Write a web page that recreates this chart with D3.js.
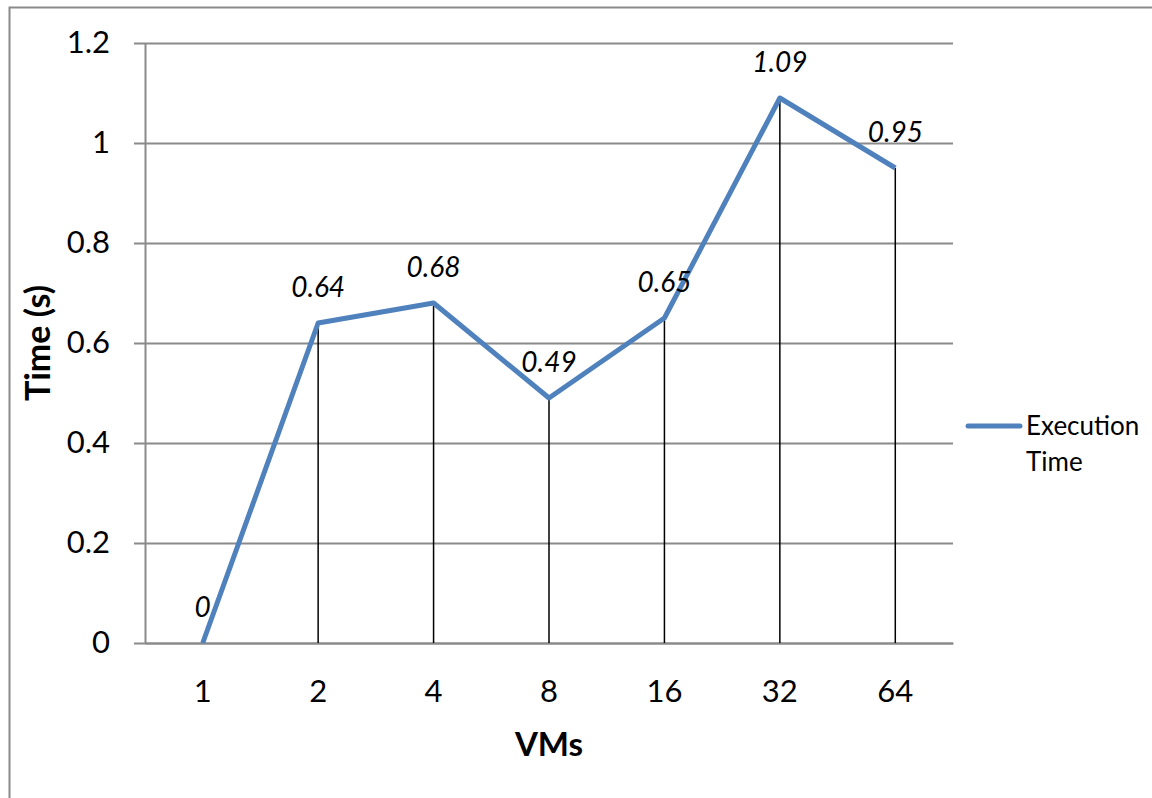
<!DOCTYPE html>
<html>
<head>
<meta charset="utf-8">
<script src="https://cdn.jsdelivr.net/npm/d3@7"></script>
<style>
  html, body { margin: 0; padding: 0; background: #fff; }
  svg { display: block; font-family: Lato, "Noto Sans", sans-serif; }
</style>
</head>
<body>
<svg id="chart" width="1152" height="798"></svg>
<script>
// Execution time per number of VMs
const vms = ["1", "2", "4", "8", "16", "32", "64"];
const execTime = [0, 0.64, 0.68, 0.49, 0.65, 1.09, 0.95];
const yTicks = [0, 0.2, 0.4, 0.6, 0.8, 1, 1.2];
const seriesName = ["Execution", "Time"];

const svg = d3.select("#chart");
const plot = { left: 145, right: 953, top: 43, bottom: 643 };

const x = d3.scaleBand().domain(vms).range([plot.left, plot.right]);
const y = d3.scaleLinear().domain([0, 1.2]).range([plot.bottom, plot.top]);
const cx = d => x(d) + x.bandwidth() / 2;

// outer chart frame
svg.append("path")
  .attr("d", "M9.5,798 L9.5,7.5 L1152,7.5")
  .attr("fill", "none").attr("stroke", "#8a8a8a").attr("stroke-width", 2);

// horizontal gridlines with outward tick marks
const yAxis = d3.axisLeft(y).tickValues(yTicks)
  .tickSize(-(plot.right - plot.left)).tickSizeOuter(0)
  .tickFormat(d => d3.format("")(d)).tickPadding(35);
const gy = svg.append("g").attr("transform", `translate(${plot.left},0)`).call(yAxis);
gy.select(".domain").attr("stroke", "#8a8a8a").attr("stroke-width", 2);
gy.selectAll(".tick line").attr("stroke", "#8a8a8a").attr("stroke-width", 2)
  .attr("x1", -11);
gy.selectAll(".tick text").attr("font-size", 31).attr("fill", "#000")
  .attr("font-family", "Lato, sans-serif");

// category axis
const xAxis = d3.axisBottom(x).tickSize(0).tickPadding(49);
const gx = svg.append("g").attr("transform", `translate(0,${plot.bottom})`).call(xAxis);
gx.select(".domain").attr("stroke", "#8a8a8a").attr("stroke-width", 2);
gx.selectAll(".tick text").attr("font-size", 31).attr("fill", "#000")
  .attr("font-family", "Lato, sans-serif").attr("dy", "0.32em");

// drop lines from each point to the axis
svg.append("g").selectAll("line")
  .data(vms.map((v, i) => ({ v, t: execTime[i] })))
  .join("line")
  .attr("x1", d => cx(d.v)).attr("x2", d => cx(d.v))
  .attr("y1", d => y(d.t)).attr("y2", y(0))
  .attr("stroke", "#000").attr("stroke-width", 1.5);

// series line
const line = d3.line().x((d, i) => cx(vms[i])).y(d => y(d));
svg.append("path")
  .datum(execTime)
  .attr("d", line)
  .attr("fill", "none")
  .attr("stroke", "#4f81bd")
  .attr("stroke-width", 5)
  .attr("stroke-linejoin", "round");

// value labels
svg.append("g").selectAll("text")
  .data(execTime)
  .join("text")
  .attr("x", (d, i) => cx(vms[i]))
  .attr("y", d => y(d) - 26)
  .attr("text-anchor", "middle")
  .attr("font-size", 28)
  .attr("font-style", "italic")
  .text(d => d3.format("")(d));

// axis titles
svg.append("text")
  .attr("x", cx("8")).attr("y", 756)
  .attr("text-anchor", "middle")
  .attr("font-size", 33).attr("font-weight", "bold")
  .text("VMs");

svg.append("text")
  .attr("transform", `translate(50,${(plot.top + plot.bottom) / 2}) rotate(-90)`)
  .attr("text-anchor", "middle")
  .attr("font-size", 34).attr("font-weight", "bold")
  .text("Time (s)");

// legend
const lg = svg.append("g");
lg.append("line")
  .attr("x1", 968).attr("x2", 1020).attr("y1", 426).attr("y2", 426)
  .attr("stroke", "#4f81bd").attr("stroke-width", 5).attr("stroke-linecap", "round");
lg.selectAll("text")
  .data(seriesName)
  .join("text")
  .attr("x", 1026)
  .attr("y", (d, i) => 435 + i * 36)
  .attr("font-size", 26)
  .text(d => d);
</script>
</body>
</html>
